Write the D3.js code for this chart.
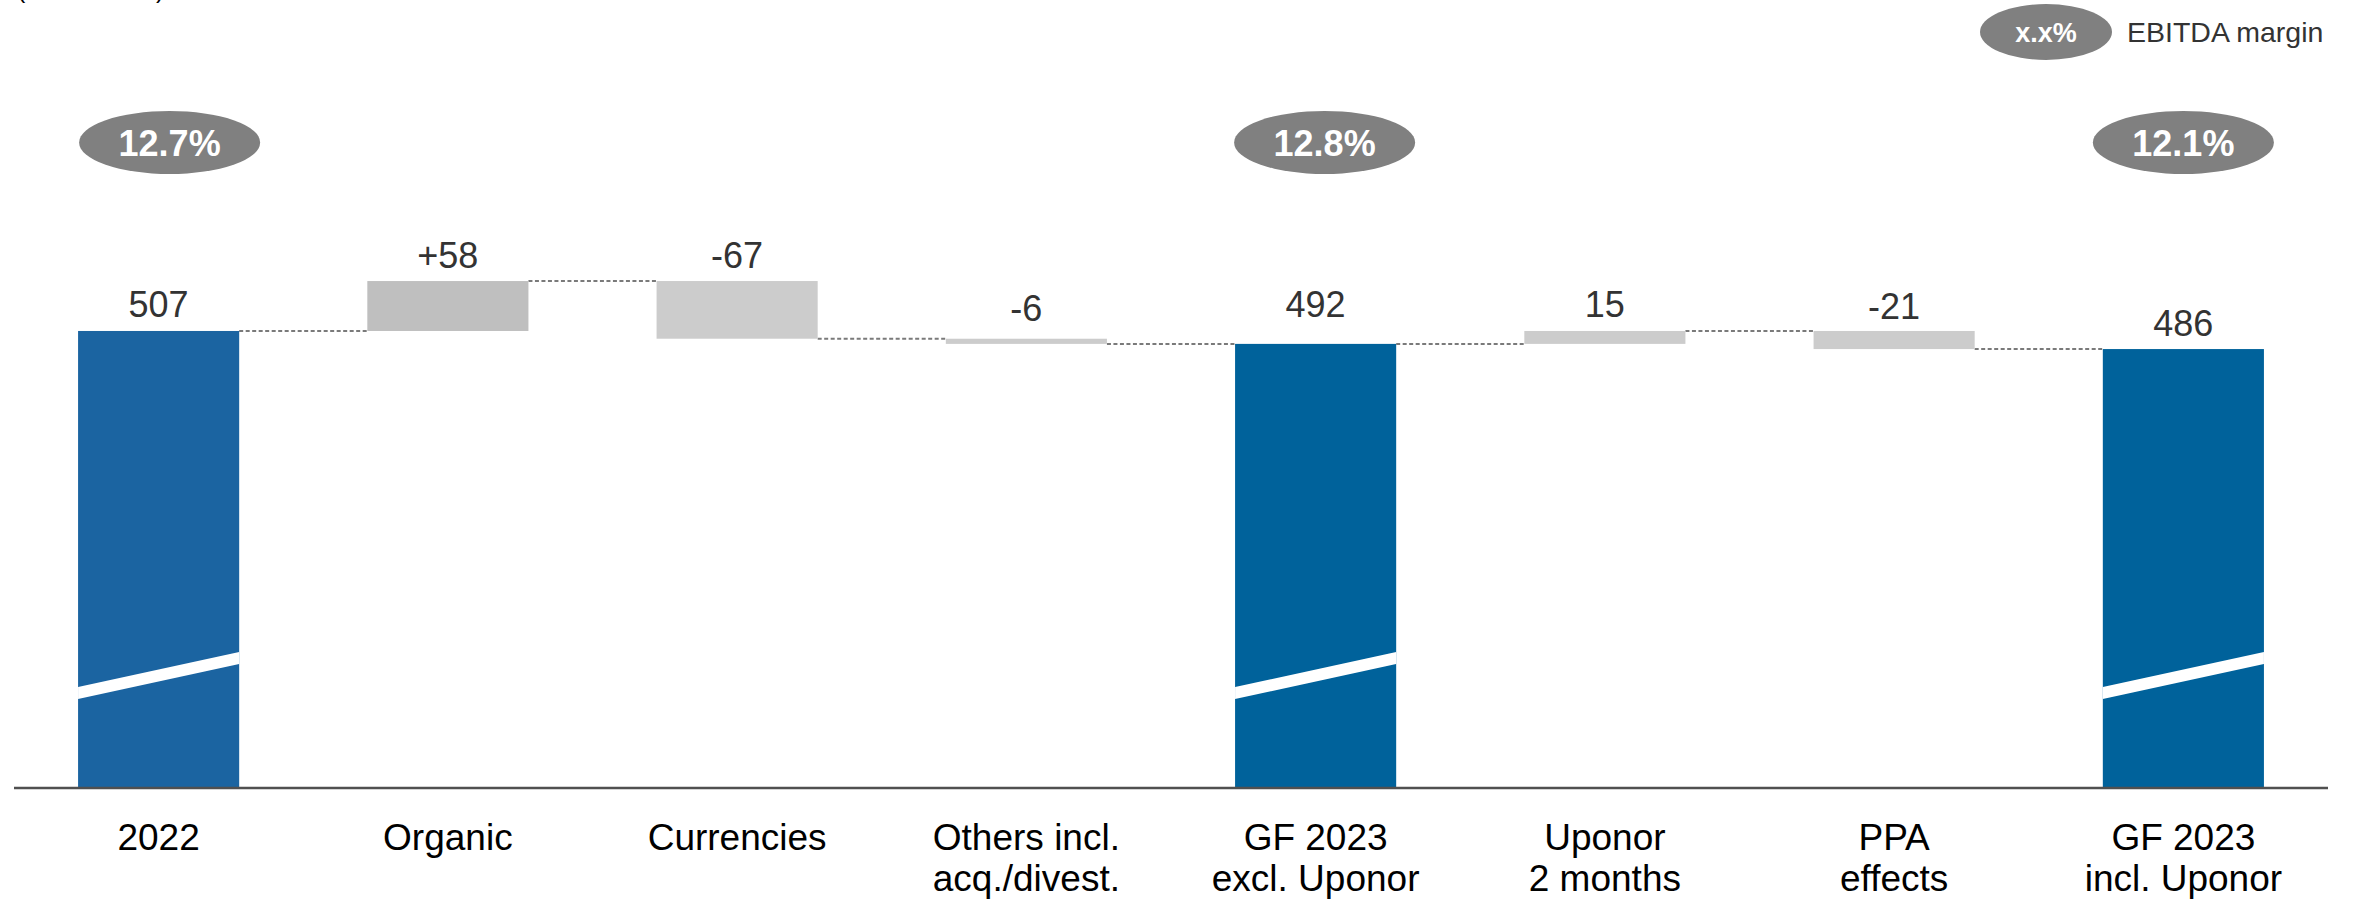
<!DOCTYPE html>
<html>
<head>
<meta charset="utf-8">
<script src="https://cdn.jsdelivr.net/npm/d3@7"></script>
<style>
  html, body { margin: 0; padding: 0; background: #fff; }
  svg { display: block; font-family: "Liberation Sans", Arial, sans-serif; }
</style>
</head>
<body>
<svg id="chart" width="2359" height="902"></svg>
<script>
// ---- Data ----
const categories = [
  ["2022"],
  ["Organic"],
  ["Currencies"],
  ["Others incl.", "acq./divest."],
  ["GF 2023", "excl. Uponor"],
  ["Uponor", "2 months"],
  ["PPA", "effects"],
  ["GF 2023", "incl. Uponor"]
];
const barTypes = ["total", "delta", "delta", "delta", "total", "delta", "delta", "total"];
const values = [507, 58, -67, -6, 492, 15, -21, 486];
const valueLabels = ["507", "+58", "-67", "-6", "492", "15", "-21", "486"];
const marginLabels = ["12.7%", null, null, null, "12.8%", null, null, "12.1%"];
const unitLabel = "(EUR million)";
const legendSymbol = "x.x%";
const legendText = "EBITDA margin";

// ---- Styles / layout ----
const barColors = ["#1B64A1", "#BFBFBF", "#CCCCCC", "#CCCCCC", "#00629B", "#CCCCCC", "#CCCCCC", "#00629B"];
const labelNudge = { 3: -4, 4: -13, 6: 2 };      // small vertical label tweaks (px)
const marginNudge = { 0: 11, 4: 9, 7: 0 };      // horizontal ellipse tweaks (px)

const svg = d3.select("#chart");
const axisY = 788;

const x = d3.scaleBand()
  .domain(d3.range(categories.length))
  .range([14, 2328])
  .paddingInner(0.443)
  .paddingOuter(0.2215);

const y = d3.scaleLinear().domain([0, 600]).range([767.5, 250.9]);

// compute waterfall
let running = 0;
const bars = values.map((v, i) => {
  let start, end;
  if (barTypes[i] === "total") { start = null; end = v; running = v; }
  else { start = running; end = running + v; running = end; }
  return { i, v, start, end, type: barTypes[i] };
});

// connectors
const conn = svg.append("g");
for (let i = 0; i < bars.length - 1; i++) {
  const level = bars[i].end;
  conn.append("line")
    .attr("x1", x(i) + x.bandwidth())
    .attr("x2", x(i + 1))
    .attr("y1", y(level)).attr("y2", y(level))
    .attr("stroke", "#7a7a7a")
    .attr("stroke-width", 2)
    .attr("stroke-dasharray", "4,2.5");
}

// bars
const gBars = svg.append("g");
bars.forEach(b => {
  let top, bottom;
  if (b.type === "total") { top = y(b.end); bottom = axisY; }
  else { top = y(Math.max(b.start, b.end)); bottom = y(Math.min(b.start, b.end)); }
  gBars.append("rect")
    .attr("x", x(b.i)).attr("width", x.bandwidth())
    .attr("y", top).attr("height", bottom - top)
    .attr("fill", barColors[b.i]);
  b.top = top;
});

// break marks on total bars
bars.filter(b => b.type === "total").forEach(b => {
  const x0 = x(b.i), x1 = x(b.i) + x.bandwidth();
  const pts = [[x0, 687], [x1, 652], [x1, 664], [x0, 699]];
  gBars.append("polygon")
    .attr("points", pts.map(p => p.join(",")).join(" "))
    .attr("fill", "#ffffff");
});

// axis line
svg.append("line")
  .attr("x1", 14).attr("x2", 2328)
  .attr("y1", axisY).attr("y2", axisY)
  .attr("stroke", "#505050").attr("stroke-width", 2.5);

// value labels
svg.append("g").selectAll("text")
  .data(bars).join("text")
  .attr("x", d => x(d.i) + x.bandwidth() / 2)
  .attr("y", d => d.top - 13.5 + (labelNudge[d.i] || 0))
  .attr("text-anchor", "middle")
  .attr("font-size", 36)
  .attr("fill", "#333333")
  .text(d => valueLabels[d.i]);

// category labels
const catG = svg.append("g");
categories.forEach((lines, i) => {
  const t = catG.append("text")
    .attr("x", x(i) + x.bandwidth() / 2)
    .attr("y", 850)
    .attr("text-anchor", "middle")
    .attr("font-size", 37)
    .attr("fill", "#000");
  lines.forEach((ln, k) => {
    t.append("tspan")
      .attr("x", x(i) + x.bandwidth() / 2)
      .attr("y", 850 + k * 41)
      .text(ln);
  });
});

// margin ellipses
const mG = svg.append("g");
marginLabels.forEach((m, i) => {
  if (!m) return;
  const cx = x(i) + x.bandwidth() / 2 + (marginNudge[i] || 0);
  mG.append("ellipse")
    .attr("cx", cx).attr("cy", 142.5)
    .attr("rx", 90.5).attr("ry", 31.5)
    .attr("fill", "#808080");
  mG.append("text")
    .attr("x", cx).attr("y", 155.5)
    .attr("text-anchor", "middle")
    .attr("font-size", 36).attr("font-weight", "bold")
    .attr("fill", "#ffffff")
    .text(m);
});

// legend
svg.append("ellipse")
  .attr("cx", 2046).attr("cy", 32)
  .attr("rx", 66).attr("ry", 28)
  .attr("fill", "#808080");
svg.append("text")
  .attr("x", 2046).attr("y", 42)
  .attr("text-anchor", "middle")
  .attr("font-size", 27).attr("font-weight", "bold")
  .attr("fill", "#ffffff")
  .text(legendSymbol);
svg.append("text")
  .attr("x", 2127).attr("y", 42)
  .attr("font-size", 28.5)
  .attr("fill", "#333333")
  .text(legendText);

// unit label (cut off at top edge, as in the reference)
svg.append("text")
  .attr("x", 17).attr("y", -2)
  .attr("font-size", 25)
  .attr("fill", "#000")
  .text(unitLabel);
</script>
</body>
</html>
